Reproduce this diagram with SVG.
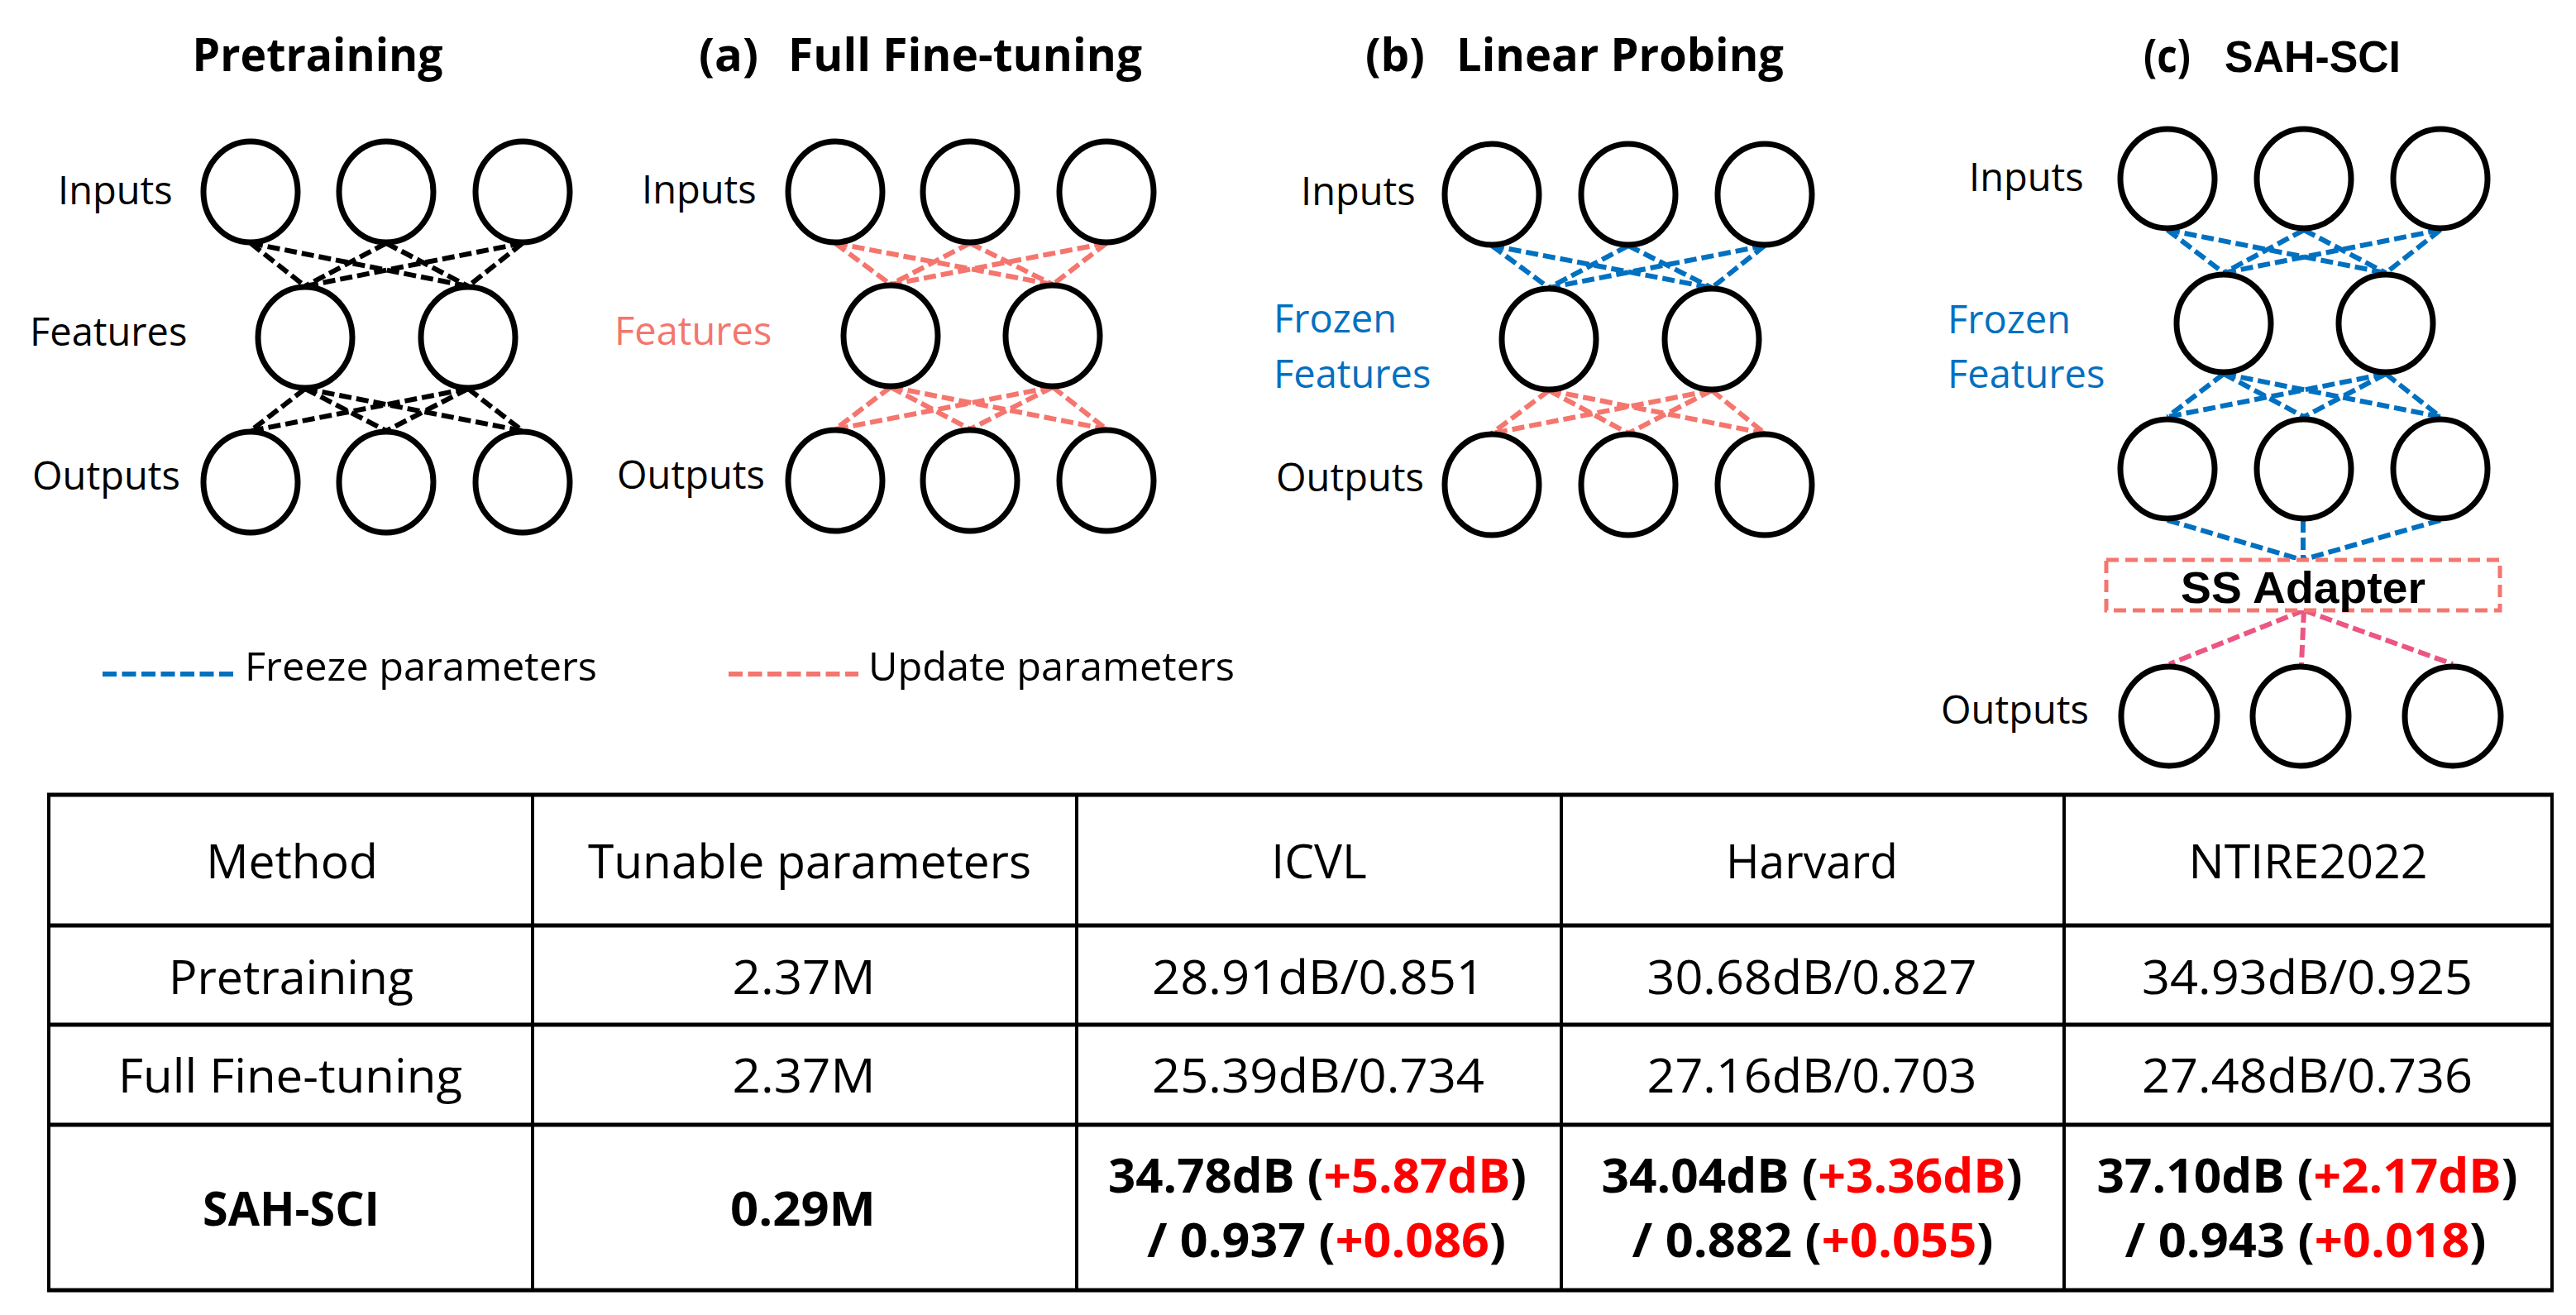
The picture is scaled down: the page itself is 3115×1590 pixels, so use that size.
<svg xmlns="http://www.w3.org/2000/svg" width="3115" height="1590" viewBox="0 0 3115 1590">
<style>
text{font-family:"Open Sans","Noto Sans",sans-serif;fill:#000}
.t{font-weight:bold;font-size:55px}
.ta{font-family:"Liberation Sans",Arial,sans-serif;font-weight:bold;font-size:53px}
.l{font-size:47px}
.bl{fill:#0070C0}
.sl{fill:#F4766E}
.n{fill:#fff;stroke:#000;stroke-width:7}
.c{fill:none;stroke-width:6;stroke-dasharray:15 6}
.k{stroke:#000}
.b{stroke:#0070C0}
.s{stroke:#F4766E}
.p{stroke:#EB5682}
.tb{font-size:57px}
.tbb{font-size:57px;font-weight:bold}
.red{fill:#FF0000}
.grid{stroke:#000;fill:none}
</style>
<rect width="3115" height="1590" fill="#fff"/>

<!-- Titles -->
<g id="title-pretraining"><text class="t" x="384" y="86" text-anchor="middle" textLength="303" lengthAdjust="spacingAndGlyphs">Pretraining</text></g>
<g id="title-a"><text class="t" x="845" y="86" textLength="72" lengthAdjust="spacingAndGlyphs">(a)</text><text class="t" x="953" y="86" textLength="428" lengthAdjust="spacingAndGlyphs">Full Fine-tuning</text></g>
<g id="title-b"><text class="t" x="1651" y="86" textLength="72" lengthAdjust="spacingAndGlyphs">(b)</text><text class="t" x="1761" y="86" textLength="396" lengthAdjust="spacingAndGlyphs">Linear Probing</text></g>
<g id="title-c"><text class="t" x="2592" y="87" textLength="57" lengthAdjust="spacingAndGlyphs">(c)</text><text class="ta" x="2690" y="87" textLength="213" lengthAdjust="spacingAndGlyphs">SAH-SCI</text></g>

<!-- Connectors -->
<g id="connectors">
  <!-- Pretraining -->
  <g class="c k">
    <line x1="303" y1="294" x2="369" y2="346"/><line x1="303" y1="294" x2="566" y2="346"/>
    <line x1="467" y1="294" x2="369" y2="346"/><line x1="467" y1="294" x2="566" y2="346"/>
    <line x1="632" y1="294" x2="369" y2="346"/><line x1="632" y1="294" x2="566" y2="346"/>
    <line x1="369" y1="470" x2="303" y2="521"/><line x1="369" y1="470" x2="467" y2="521"/><line x1="369" y1="470" x2="632" y2="521"/>
    <line x1="566" y1="470" x2="303" y2="521"/><line x1="566" y1="470" x2="467" y2="521"/><line x1="566" y1="470" x2="632" y2="521"/>
  </g>
  <!-- (a) -->
  <g class="c s">
    <line x1="1010" y1="294" x2="1077" y2="344"/><line x1="1010" y1="294" x2="1273" y2="344"/>
    <line x1="1173" y1="294" x2="1077" y2="344"/><line x1="1173" y1="294" x2="1273" y2="344"/>
    <line x1="1338" y1="294" x2="1077" y2="344"/><line x1="1338" y1="294" x2="1273" y2="344"/>
    <line x1="1077" y1="468" x2="1010" y2="519"/><line x1="1077" y1="468" x2="1173" y2="519"/><line x1="1077" y1="468" x2="1338" y2="519"/>
    <line x1="1273" y1="468" x2="1010" y2="519"/><line x1="1273" y1="468" x2="1173" y2="519"/><line x1="1273" y1="468" x2="1338" y2="519"/>
  </g>
  <!-- (b) -->
  <g class="c b">
    <line x1="1804" y1="297" x2="1873" y2="348"/><line x1="1804" y1="297" x2="2070" y2="348"/>
    <line x1="1969" y1="297" x2="1873" y2="348"/><line x1="1969" y1="297" x2="2070" y2="348"/>
    <line x1="2134" y1="297" x2="1873" y2="348"/><line x1="2134" y1="297" x2="2070" y2="348"/>
  </g>
  <g class="c s">
    <line x1="1873" y1="472" x2="1804" y2="524"/><line x1="1873" y1="472" x2="1969" y2="524"/><line x1="1873" y1="472" x2="2134" y2="524"/>
    <line x1="2070" y1="472" x2="1804" y2="524"/><line x1="2070" y1="472" x2="1969" y2="524"/><line x1="2070" y1="472" x2="2134" y2="524"/>
  </g>
  <!-- (c) -->
  <g class="c b">
    <line x1="2621" y1="278" x2="2689" y2="330"/><line x1="2621" y1="278" x2="2885" y2="330"/>
    <line x1="2786" y1="278" x2="2689" y2="330"/><line x1="2786" y1="278" x2="2885" y2="330"/>
    <line x1="2951" y1="278" x2="2689" y2="330"/><line x1="2951" y1="278" x2="2885" y2="330"/>
    <line x1="2689" y1="452" x2="2621" y2="504"/><line x1="2689" y1="452" x2="2786" y2="504"/><line x1="2689" y1="452" x2="2951" y2="504"/>
    <line x1="2885" y1="452" x2="2621" y2="504"/><line x1="2885" y1="452" x2="2786" y2="504"/><line x1="2885" y1="452" x2="2951" y2="504"/>
    <line x1="2621" y1="629" x2="2784" y2="677"/><line x1="2785" y1="629" x2="2785" y2="677"/><line x1="2951" y1="629" x2="2784" y2="677"/>
  </g>
  <g class="c p">
    <line x1="2786" y1="738" x2="2623" y2="803"/><line x1="2786" y1="738" x2="2783" y2="803"/><line x1="2786" y1="738" x2="2966" y2="803"/>
  </g>
</g>

<!-- Pretraining nodes -->
<g id="pre-inputs"><text class="l" x="70" y="247">Inputs</text>
  <ellipse class="n" cx="303" cy="232" rx="57" ry="61"/><ellipse class="n" cx="467" cy="232" rx="57" ry="61"/><ellipse class="n" cx="632" cy="232" rx="57" ry="61"/></g>
<g id="pre-features"><text class="l" x="36" y="418">Features</text>
  <ellipse class="n" cx="369" cy="408" rx="57" ry="61"/><ellipse class="n" cx="566" cy="408" rx="57" ry="61"/></g>
<g id="pre-outputs"><text class="l" x="39" y="592">Outputs</text>
  <ellipse class="n" cx="303" cy="583" rx="57" ry="61"/><ellipse class="n" cx="467" cy="583" rx="57" ry="61"/><ellipse class="n" cx="632" cy="583" rx="57" ry="61"/></g>

<!-- (a) nodes -->
<g id="a-inputs"><text class="l" x="776" y="246">Inputs</text>
  <ellipse class="n" cx="1010" cy="232" rx="57" ry="61"/><ellipse class="n" cx="1173" cy="232" rx="57" ry="61"/><ellipse class="n" cx="1338" cy="232" rx="57" ry="61"/></g>
<g id="a-features"><text class="l sl" x="743" y="417">Features</text>
  <ellipse class="n" cx="1077" cy="406" rx="57" ry="61"/><ellipse class="n" cx="1273" cy="406" rx="57" ry="61"/></g>
<g id="a-outputs"><text class="l" x="746" y="591">Outputs</text>
  <ellipse class="n" cx="1010" cy="581" rx="57" ry="61"/><ellipse class="n" cx="1173" cy="581" rx="57" ry="61"/><ellipse class="n" cx="1338" cy="581" rx="57" ry="61"/></g>

<!-- (b) nodes -->
<g id="b-inputs"><text class="l" x="1573" y="248">Inputs</text>
  <ellipse class="n" cx="1804" cy="235" rx="57" ry="61"/><ellipse class="n" cx="1969" cy="235" rx="57" ry="61"/><ellipse class="n" cx="2134" cy="235" rx="57" ry="61"/></g>
<g id="b-features"><text class="l bl" x="1540" y="402">Frozen</text><text class="l bl" x="1540" y="469">Features</text>
  <ellipse class="n" cx="1873" cy="410" rx="57" ry="61"/><ellipse class="n" cx="2070" cy="410" rx="57" ry="61"/></g>
<g id="b-outputs"><text class="l" x="1543" y="594">Outputs</text>
  <ellipse class="n" cx="1804" cy="586" rx="57" ry="61"/><ellipse class="n" cx="1969" cy="586" rx="57" ry="61"/><ellipse class="n" cx="2134" cy="586" rx="57" ry="61"/></g>

<!-- (c) nodes -->
<g id="c-inputs"><text class="l" x="2381" y="231">Inputs</text>
  <ellipse class="n" cx="2621" cy="216" rx="57" ry="60"/><ellipse class="n" cx="2786" cy="216" rx="57" ry="60"/><ellipse class="n" cx="2951" cy="216" rx="57" ry="60"/></g>
<g id="c-features"><text class="l bl" x="2355" y="403">Frozen</text><text class="l bl" x="2355" y="469">Features</text>
  <ellipse class="n" cx="2689" cy="391" rx="57" ry="59"/><ellipse class="n" cx="2885" cy="391" rx="57" ry="59"/></g>
<g id="c-hidden">
  <ellipse class="n" cx="2621" cy="567" rx="57" ry="60"/><ellipse class="n" cx="2786" cy="567" rx="57" ry="60"/><ellipse class="n" cx="2951" cy="567" rx="57" ry="60"/></g>
<g id="c-adapter">
  <rect x="2547" y="677" width="476" height="61" fill="#fff" stroke="#F4766E" stroke-width="5" stroke-dasharray="15 8"/>
  <text class="ta" x="2785" y="729" font-size="56" text-anchor="middle" textLength="296" lengthAdjust="spacingAndGlyphs">SS Adapter</text></g>
<g id="c-outputs"><text class="l" x="2347" y="875">Outputs</text>
  <ellipse class="n" cx="2623" cy="866" rx="58" ry="60"/><ellipse class="n" cx="2782" cy="866" rx="58" ry="60"/><ellipse class="n" cx="2966" cy="866" rx="58" ry="60"/></g>

<!-- Legend -->
<g id="legend-freeze">
  <line x1="124" y1="815" x2="282" y2="815" stroke="#0070C0" stroke-width="6" stroke-dasharray="17 6.5"/>
  <text x="296" y="823" font-size="48" textLength="426" lengthAdjust="spacingAndGlyphs">Freeze parameters</text></g>
<g id="legend-update">
  <line x1="881" y1="815" x2="1038" y2="815" stroke="#F4766E" stroke-width="6" stroke-dasharray="17 6.5"/>
  <text x="1050" y="823" font-size="48" textLength="443" lengthAdjust="spacingAndGlyphs">Update parameters</text></g>

<!-- Table -->
<g id="table">
  <g class="grid" stroke-width="5">
    <line x1="57" y1="961" x2="3088" y2="961"/><line x1="57" y1="1119" x2="3088" y2="1119"/>
    <line x1="57" y1="1239" x2="3088" y2="1239"/><line x1="57" y1="1360" x2="3088" y2="1360"/>
    <line x1="57" y1="1560" x2="3088" y2="1560"/>
  </g>
  <g class="grid" stroke-width="4">
    <line x1="59" y1="961" x2="59" y2="1560"/><line x1="644" y1="961" x2="644" y2="1560"/>
    <line x1="1302" y1="961" x2="1302" y2="1560"/><line x1="1888" y1="961" x2="1888" y2="1560"/>
    <line x1="2496" y1="961" x2="2496" y2="1560"/><line x1="3086" y1="961" x2="3086" y2="1560"/>
  </g>
  <g text-anchor="middle" class="tb">
    <text class="tb" x="353" y="1062">Method</text>
    <text class="tb" x="979" y="1062" textLength="536" lengthAdjust="spacingAndGlyphs">Tunable parameters</text>
    <text class="tb" x="1595" y="1062">ICVL</text>
    <text class="tb" x="2191" y="1062" textLength="208" lengthAdjust="spacingAndGlyphs">Harvard</text>
    <text class="tb" x="2791" y="1062" textLength="289" lengthAdjust="spacingAndGlyphs">NTIRE2022</text>

    <text class="tb" x="352" y="1202" textLength="296" lengthAdjust="spacingAndGlyphs">Pretraining</text>
    <text class="tb" x="972" y="1202" textLength="173" lengthAdjust="spacingAndGlyphs">2.37M</text>
    <text class="tb" x="1594" y="1202" textLength="402" lengthAdjust="spacingAndGlyphs">28.91dB/0.851</text>
    <text class="tb" x="2191" y="1202" textLength="399" lengthAdjust="spacingAndGlyphs">30.68dB/0.827</text>
    <text class="tb" x="2790" y="1202" textLength="400" lengthAdjust="spacingAndGlyphs">34.93dB/0.925</text>

    <text class="tb" x="351" y="1321" textLength="416" lengthAdjust="spacingAndGlyphs">Full Fine-tuning</text>
    <text class="tb" x="972" y="1321" textLength="173" lengthAdjust="spacingAndGlyphs">2.37M</text>
    <text class="tb" x="1594" y="1321" textLength="402" lengthAdjust="spacingAndGlyphs">25.39dB/0.734</text>
    <text class="tb" x="2191" y="1321" textLength="399" lengthAdjust="spacingAndGlyphs">27.16dB/0.703</text>
    <text class="tb" x="2790" y="1321" textLength="400" lengthAdjust="spacingAndGlyphs">27.48dB/0.736</text>

    <text class="tbb" x="352" y="1482" textLength="214" lengthAdjust="spacingAndGlyphs">SAH-SCI</text>
    <text class="tbb" x="971" y="1482" textLength="176" lengthAdjust="spacingAndGlyphs">0.29M</text>
    <text class="tbb" x="1593" y="1442" textLength="506" lengthAdjust="spacingAndGlyphs">34.78dB (<tspan class="red">+5.87dB</tspan>)</text>
    <text class="tbb" x="1604" y="1520" textLength="434" lengthAdjust="spacingAndGlyphs">/ 0.937 (<tspan class="red">+0.086</tspan>)</text>
    <text class="tbb" x="2191" y="1442" textLength="509" lengthAdjust="spacingAndGlyphs">34.04dB (<tspan class="red">+3.36dB</tspan>)</text>
    <text class="tbb" x="2192" y="1520" textLength="437" lengthAdjust="spacingAndGlyphs">/ 0.882 (<tspan class="red">+0.055</tspan>)</text>
    <text class="tbb" x="2790" y="1442" textLength="509" lengthAdjust="spacingAndGlyphs">37.10dB (<tspan class="red">+2.17dB</tspan>)</text>
    <text class="tbb" x="2788" y="1520" textLength="437" lengthAdjust="spacingAndGlyphs">/ 0.943 (<tspan class="red">+0.018</tspan>)</text>
  </g>
</g>
</svg>
